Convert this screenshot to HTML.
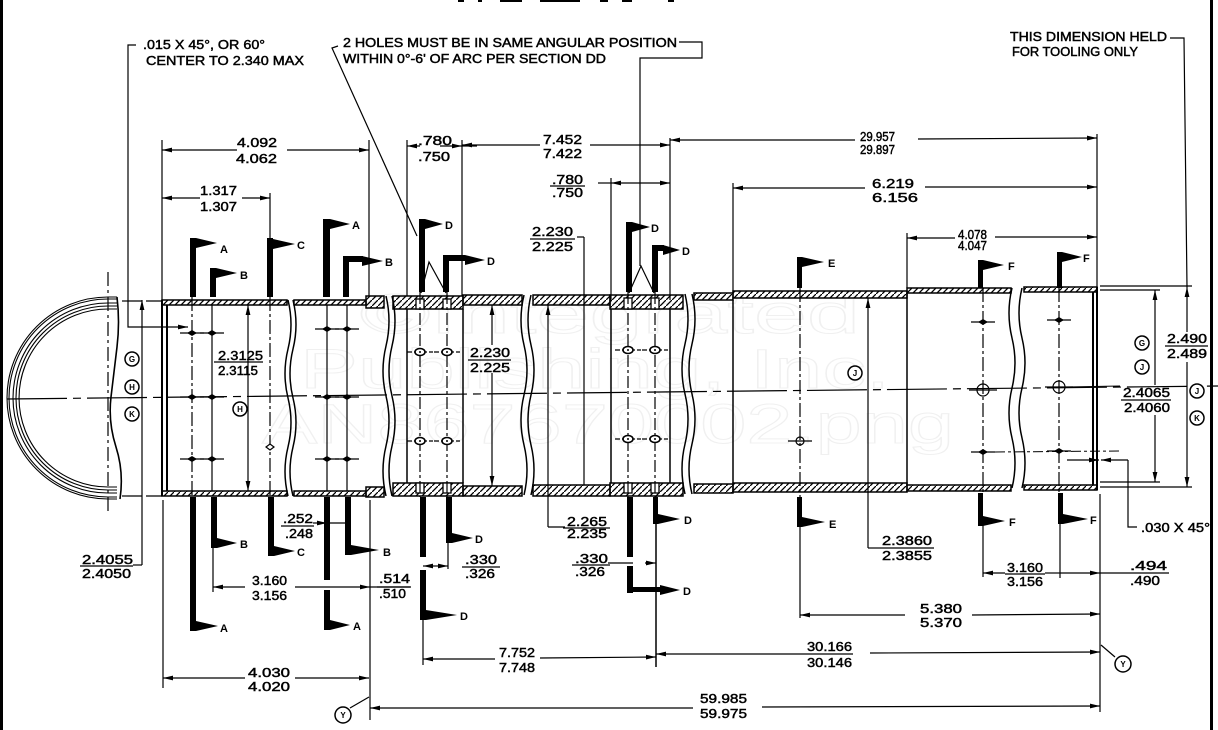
<!DOCTYPE html>
<html><head><meta charset="utf-8"><style>
html,body{margin:0;padding:0;background:#fff;}
svg{display:block}
text{font-family:"Liberation Sans",sans-serif;fill:#000}
.d{font-size:12.5px;stroke:#000;stroke-width:0.45}
.L{font-size:11px;font-weight:bold}
.c{font-size:8px;font-weight:bold}
.wm{font-size:56px;fill:none;stroke:#f0f0f0;stroke-width:1}
</style></head><body>
<svg width="1218" height="730" viewBox="0 0 1218 730" xmlns="http://www.w3.org/2000/svg">
<defs>
<pattern id="h" patternUnits="userSpaceOnUse" width="6" height="6"><path d="M-1,7 L7,-1" stroke="#000" stroke-width="1.3"/></pattern>
<marker id="a" markerUnits="userSpaceOnUse" markerWidth="10" markerHeight="6" refX="10" refY="3" orient="auto-start-reverse"><path d="M0,0.6 L10,3 L0,5.4z" fill="#000"/></marker>
<g id="hf"><line x1="-12" y1="0" x2="12" y2="0" stroke="#000" stroke-width="1.2"/><path d="M-5,0 L0,-3 L5,0 L0,3z" fill="#000"/></g>
<g id="ho"><line x1="-13" y1="0" x2="13" y2="0" stroke="#000" stroke-width="1.2" stroke-dasharray="5 2 2 2"/><ellipse cx="0" cy="0" rx="5" ry="3.5" fill="#fff" stroke="#000" stroke-width="1.6"/><circle cx="0" cy="0" r="1" fill="#000"/></g>
<g id="hc"><line x1="-14" y1="0" x2="14" y2="0" stroke="#000" stroke-width="1.2"/><circle cx="0" cy="0" r="6" fill="none" stroke="#000" stroke-width="1.2"/></g>
</defs>
<rect width="1218" height="730" fill="#fff"/>

<!-- watermark -->
<text class="wm" x="360" y="333" textLength="500" lengthAdjust="spacingAndGlyphs">©Integrated</text>
<text class="wm" x="300" y="388" textLength="590" lengthAdjust="spacingAndGlyphs">Publishing, Inc.</text>
<text class="wm" x="262" y="443" textLength="692" lengthAdjust="spacingAndGlyphs">AN867670002.png</text>

<!-- borders -->
<rect x="0" y="0" width="3" height="730" fill="#000"/>
<rect x="1210" y="0" width="3" height="730" fill="#000"/>
<g fill="#000"><rect x="458" y="0" width="6" height="2"/><rect x="478" y="0" width="4" height="2"/><rect x="500" y="0" width="22" height="2"/><rect x="540" y="0" width="40" height="2"/><rect x="600" y="0" width="8" height="2"/><rect x="622" y="0" width="10" height="2"/><rect x="668" y="0" width="6" height="2"/></g>

<!-- center line -->
<line x1="7" y1="399" x2="1220" y2="386" stroke="#000" stroke-width="1.2" stroke-dasharray="60 6 8 6"/>

<!-- end view -->
<g fill="none" stroke="#000" stroke-width="1.1">
<path d="M117,297 H108 A101,101 0 0 0 108,499 H117"/>
<path d="M117,299 H108 A99,99 0 0 0 108,497 H117"/>
<path d="M117,303 H108 A95,95 0 0 0 108,493 H117"/>
<path d="M117,306 H108 A92,92 0 0 0 108,490 H117"/>
<path d="M117,309 H108 A89,89 0 0 0 108,487 H117"/>
<path d="M117,297 q3,25 0,50 t-6,50 t5,50 t4,52" stroke-width="1.6"/>
</g>
<line x1="108" y1="272" x2="108" y2="513" stroke="#000" stroke-width="1.2" stroke-dasharray="14 4 3 4"/>

<!-- extension lines left -->
<g stroke="#000" stroke-width="1.2" fill="none">
<line x1="122" y1="301" x2="162" y2="301" stroke-dasharray="20 4"/>
<line x1="122" y1="496" x2="162" y2="496" stroke-dasharray="20 4"/>
<line x1="142" y1="565" x2="142" y2="300" marker-end="url(#a)"/>
<polyline points="133,565 142,565"/>
<polyline points="136,45 128,45 128,327 188,327" marker-end="url(#a)"/>
</g>

<!-- TUBE WALLS -->
<g stroke="#000" stroke-width="1.5" fill="url(#h)">
<rect x="162" y="300" width="125" height="5"/><rect x="162" y="491" width="125" height="5"/>
<rect x="294" y="300" width="72" height="5"/><rect x="294" y="491" width="72" height="5"/>
<rect x="366" y="296" width="18" height="12"/><rect x="366" y="487" width="18" height="10"/>
<rect x="393" y="296" width="70" height="13"/><rect x="393" y="483" width="70" height="13"/>
<rect x="463" y="295" width="59" height="10"/><rect x="463" y="486" width="59" height="10"/>
<rect x="533" y="295" width="77" height="10"/><rect x="533" y="485" width="77" height="11"/>
<rect x="610" y="295" width="73" height="14"/><rect x="610" y="483" width="73" height="13"/>
<rect x="694" y="293" width="39" height="7"/><rect x="694" y="484" width="39" height="9"/>
<rect x="733" y="291" width="174" height="7"/><rect x="733" y="483" width="174" height="9"/>
<rect x="907" y="288" width="104" height="5"/><rect x="907" y="485" width="104" height="6"/>
<rect x="1024" y="287" width="73" height="5"/><rect x="1024" y="485" width="73" height="5"/>
</g>
<!-- hole gaps -->
<g fill="#fff" stroke="#000" stroke-width="1.3">
<rect x="416" y="299" width="8" height="10"/><rect x="443" y="299" width="8" height="10"/>
<rect x="416" y="483" width="8" height="10"/><rect x="443" y="483" width="8" height="10"/>
<rect x="624" y="298" width="8" height="11"/><rect x="651" y="298" width="8" height="11"/>
<rect x="624" y="483" width="8" height="10"/><rect x="651" y="483" width="8" height="10"/>
</g>

<!-- outline vertical lines -->
<g stroke="#000" stroke-width="2" fill="none">
<line x1="162" y1="300" x2="162" y2="496"/>
<line x1="167" y1="305" x2="167" y2="491"/>
<line x1="1097" y1="287" x2="1097" y2="490"/>
<line x1="1093" y1="292" x2="1093" y2="485"/>
<line x1="407" y1="309" x2="407" y2="483" stroke-width="1.5"/>
<line x1="463" y1="309" x2="463" y2="483" stroke-width="1.5"/>
<line x1="611" y1="309" x2="611" y2="483" stroke-width="1.5"/>
<line x1="670" y1="309" x2="670" y2="483" stroke-width="1.5"/>
<line x1="733" y1="300" x2="733" y2="483" stroke-width="1.5"/>
<line x1="907" y1="293" x2="907" y2="485" stroke-width="1.5"/>
</g>
<!-- break lines -->
<g stroke="#000" stroke-width="1.5" fill="none">
<path d="M288,300 q6,24.5 0,49 t0,49 t0,49 t0,49"/>
<path d="M293,300 q6,24.5 0,49 t0,49 t0,49 t0,49"/>
<path d="M386,296 q6,25 0,50 t0,50 t0,50 t0,50"/>
<path d="M392,296 q6,25 0,50 t0,50 t0,50 t0,50"/>
<path d="M524,295 q-6,25 0,50 t0,50 t0,50 t0,50"/>
<path d="M531,295 q-6,25 0,50 t0,50 t0,50 t0,50"/>
<path d="M685,294 q6,25 0,50 t0,50 t0,50 t0,50"/>
<path d="M692,294 q6,25 0,50 t0,50 t0,50 t0,50"/>
<path d="M1012,288 q-6,25 0,50 t0,50 t0,50 t0,50"/>
<path d="M1022,288 q-6,25 0,50 t0,50 t0,50 t0,50"/>
</g>

<!-- interior lines -->
<g stroke="#000" stroke-width="1.2" fill="none">
<line x1="192" y1="297" x2="192" y2="497" stroke-dasharray="14 3 3 3"/>
<line x1="212" y1="305" x2="212" y2="491"/>
<line x1="270" y1="297" x2="270" y2="497" stroke-dasharray="14 3 3 3"/>
<line x1="327" y1="305" x2="327" y2="491"/>
<line x1="347" y1="305" x2="347" y2="491"/>
<line x1="420" y1="292" x2="420" y2="497" stroke-dasharray="12 3 3 3"/>
<line x1="447" y1="292" x2="447" y2="497" stroke-dasharray="12 3 3 3"/>
<line x1="628" y1="292" x2="628" y2="497" stroke-dasharray="12 3 3 3"/>
<line x1="655" y1="292" x2="655" y2="497" stroke-dasharray="12 3 3 3"/>
<line x1="584" y1="237" x2="584" y2="485"/>
<polyline points="577,237 584,237"/>
<line x1="800" y1="288" x2="800" y2="497" stroke-dasharray="14 3 3 3"/>
<line x1="983" y1="288" x2="983" y2="493" stroke-dasharray="14 3 3 3"/>
<line x1="1059" y1="288" x2="1059" y2="493" stroke-dasharray="14 3 3 3"/>
<!-- inner dims -->
<line x1="248" y1="360" x2="248" y2="305" marker-end="url(#a)"/>
<line x1="248" y1="360" x2="248" y2="491" marker-end="url(#a)"/>
<line x1="492" y1="345" x2="492" y2="305" marker-end="url(#a)"/>
<line x1="492" y1="373" x2="492" y2="486" marker-end="url(#a)"/>
<line x1="548" y1="400" x2="548" y2="305" marker-end="url(#a)"/>
<line x1="548" y1="400" x2="548" y2="527"/>
<polyline points="548,527 565,527"/>
<line x1="868" y1="400" x2="868" y2="298" marker-end="url(#a)"/>
<line x1="868" y1="400" x2="868" y2="548"/>
<polyline points="868,548 880,548"/>
</g>

<!-- holes -->
<use href="#hf" x="192" y="333"/><use href="#hf" x="212" y="333"/>
<use href="#hf" x="192" y="397"/><use href="#hf" x="212" y="397"/>
<use href="#hf" x="192" y="459"/><use href="#hf" x="212" y="459"/>
<path d="M266,447 L270,444 L274,447 L270,450z" fill="#fff" stroke="#000" stroke-width="1.2"/>
<use href="#hf" x="327" y="329"/><use href="#hf" x="347" y="329"/>
<use href="#hf" x="327" y="397"/><use href="#hf" x="347" y="397"/>
<use href="#hf" x="327" y="459"/><use href="#hf" x="347" y="459"/>
<use href="#ho" x="420" y="352"/><use href="#ho" x="447" y="352"/>
<use href="#ho" x="420" y="441"/><use href="#ho" x="447" y="441"/>
<use href="#ho" x="628" y="350"/><use href="#ho" x="655" y="350"/>
<use href="#ho" x="628" y="439"/><use href="#ho" x="655" y="439"/>
<g stroke="#000" stroke-width="1.2" fill="none">
<circle cx="800" cy="441" r="4"/><line x1="788" y1="441" x2="812" y2="441"/>
</g>
<use href="#hf" x="983" y="322"/><use href="#hc" x="983" y="390"/><use href="#hf" x="983" y="452"/>
<use href="#hf" x="1059" y="320"/><use href="#hc" x="1059" y="387"/><use href="#hf" x="1059" y="451"/>
<line x1="995" y1="452" x2="1120" y2="451" stroke="#000" stroke-width="1" stroke-dasharray="10 3 3 3"/>
<line x1="1067" y1="387" x2="1120" y2="386" stroke="#000" stroke-width="1"/>

<!-- V leaders -->
<g stroke="#000" stroke-width="1.2" fill="none">
<polyline points="421,293 429,262 446,293"/>
<polyline points="629,293 641,266 654,293"/>
<polyline points="338,46 332,48 417,236"/>
<polyline points="679,42 702,42 702,58 640,58 640,266"/>
<polyline points="1170,38 1184,38 1187,287"/>
</g>

<!-- top dimension lines -->
<g stroke="#000" stroke-width="1.2" fill="none">
<line x1="162" y1="140" x2="162" y2="300"/>
<line x1="369" y1="140" x2="369" y2="296"/>
<line x1="237" y1="150" x2="162" y2="150" marker-end="url(#a)"/>
<line x1="287" y1="150" x2="369" y2="150" marker-end="url(#a)"/>
<line x1="270" y1="193" x2="270" y2="240"/>
<line x1="200" y1="198" x2="162" y2="198" marker-end="url(#a)"/>
<line x1="242" y1="198" x2="270" y2="198" marker-end="url(#a)"/>
<line x1="407" y1="140" x2="407" y2="296"/>
<line x1="462" y1="140" x2="462" y2="296"/>
<line x1="420" y1="146" x2="407" y2="146" marker-end="url(#a)"/>
<line x1="440" y1="146" x2="462" y2="146" marker-end="url(#a)"/>
<line x1="462" y1="146" x2="477" y2="146"/>
<line x1="540" y1="145" x2="462" y2="145" marker-end="url(#a)"/>
<line x1="590" y1="145" x2="670" y2="145" marker-end="url(#a)"/>
<line x1="670" y1="138" x2="670" y2="300"/>
<line x1="855" y1="140" x2="670" y2="140" marker-end="url(#a)"/>
<line x1="918" y1="139" x2="1097" y2="138" marker-end="url(#a)"/>
<line x1="1097" y1="134" x2="1097" y2="287"/>
<line x1="611" y1="178" x2="611" y2="300"/>
<line x1="598" y1="183" x2="611" y2="183"/>
<line x1="640" y1="183" x2="611" y2="183" marker-end="url(#a)"/>
<line x1="640" y1="183" x2="670" y2="183" marker-end="url(#a)"/>
<line x1="733" y1="183" x2="733" y2="293"/>
<line x1="865" y1="188" x2="733" y2="188" marker-end="url(#a)"/>
<line x1="925" y1="187" x2="1097" y2="187" marker-end="url(#a)"/>
<line x1="907" y1="233" x2="907" y2="288"/>
<line x1="955" y1="238" x2="907" y2="238" marker-end="url(#a)"/>
<line x1="995" y1="237" x2="1097" y2="237" marker-end="url(#a)"/>
<!-- right dims -->
<line x1="1100" y1="286" x2="1192" y2="286"/>
<line x1="1100" y1="290" x2="1160" y2="290"/>
<line x1="1100" y1="487" x2="1192" y2="487"/>
<line x1="1100" y1="482" x2="1160" y2="482"/>
<line x1="1187" y1="332" x2="1187" y2="287" marker-end="url(#a)"/>
<line x1="1187" y1="362" x2="1187" y2="487" marker-end="url(#a)"/>
<line x1="1155" y1="385" x2="1155" y2="290" marker-end="url(#a)"/>
<line x1="1155" y1="415" x2="1155" y2="482" marker-end="url(#a)"/>
<line x1="1067" y1="460" x2="1099" y2="460" marker-end="url(#a)"/>
<line x1="1128" y1="460" x2="1101" y2="460" marker-end="url(#a)"/>
<polyline points="1128,460 1128,527 1137,527"/>
</g>

<!-- bottom dimension lines -->
<g stroke="#000" stroke-width="1.2" fill="none">
<line x1="163" y1="500" x2="163" y2="688"/>
<line x1="370" y1="500" x2="370" y2="720"/>
<line x1="1100" y1="494" x2="1100" y2="712"/>
<line x1="318" y1="523" x2="347" y2="523"/>
<line x1="313" y1="523" x2="327" y2="523" marker-end="url(#a)"/>
<line x1="213" y1="545" x2="213" y2="592"/>
<line x1="245" y1="587" x2="213" y2="587" marker-end="url(#a)"/>
<line x1="295" y1="587" x2="370" y2="587" marker-end="url(#a)"/>
<line x1="370" y1="587" x2="410" y2="587"/>
<line x1="245" y1="678" x2="163" y2="678" marker-end="url(#a)"/>
<line x1="295" y1="678" x2="369" y2="678" marker-end="url(#a)"/>
<line x1="448" y1="540" x2="448" y2="569"/>
<line x1="436" y1="566" x2="423" y2="566" marker-end="url(#a)"/>
<line x1="436" y1="566" x2="448" y2="566" marker-end="url(#a)"/>
<line x1="608" y1="563" x2="633" y2="563"/>
<line x1="645" y1="563" x2="656" y2="563" marker-end="url(#a)"/>
<line x1="656" y1="496" x2="656" y2="667" stroke-width="1.5"/>
<line x1="423" y1="617" x2="423" y2="665"/>
<line x1="495" y1="659" x2="423" y2="659" marker-end="url(#a)"/>
<line x1="540" y1="658" x2="656" y2="657" marker-end="url(#a)"/>
<line x1="805" y1="654" x2="656" y2="654" marker-end="url(#a)"/>
<line x1="870" y1="653" x2="1100" y2="652" marker-end="url(#a)"/>
<line x1="693" y1="708" x2="370" y2="708" marker-end="url(#a)"/>
<line x1="762" y1="707" x2="1100" y2="706" marker-end="url(#a)"/>
<line x1="983" y1="522" x2="983" y2="577"/>
<line x1="1060" y1="520" x2="1060" y2="578"/>
<line x1="1005" y1="573" x2="983" y2="573" marker-end="url(#a)"/>
<line x1="1045" y1="573" x2="1060" y2="573"/>
<line x1="1060" y1="573" x2="1100" y2="573" marker-end="url(#a)"/>
<line x1="1100" y1="573" x2="1128" y2="573"/>
<line x1="800" y1="522" x2="800" y2="618"/>
<line x1="905" y1="615" x2="800" y2="615" marker-end="url(#a)"/>
<line x1="972" y1="615" x2="1100" y2="614" marker-end="url(#a)"/>
<line x1="350" y1="708" x2="369" y2="697"/>
<line x1="1115" y1="657" x2="1101" y2="645"/>
</g>

<!-- section markers top -->
<g fill="#000">
<rect x="190" y="238" width="6" height="59"/><polygon points="196,238 217,243 196,248"/>
<rect x="210" y="268" width="6" height="29"/><polygon points="216,268 237,273 216,278"/>
<rect x="267" y="238" width="6" height="59"/><polygon points="273,239 295,244 273,249"/>
<rect x="323" y="219" width="7" height="78"/><polygon points="330,219 350,224 330,229"/>
<rect x="343" y="256" width="6" height="41"/><rect x="343" y="256" width="20" height="6"/><polygon points="362,256 383,261 362,266"/>
<rect x="419" y="219" width="6" height="73"/><polygon points="425,219 443,224 425,229"/>
<rect x="443" y="255" width="6" height="37"/><rect x="443" y="255" width="22" height="6"/><polygon points="465,255 485,260 465,265"/>
<rect x="626" y="222" width="6" height="70"/><polygon points="632,222 650,227 632,232"/>
<rect x="652" y="245" width="6" height="47"/><rect x="652" y="245" width="12" height="6"/><polygon points="663,245 680,250 663,255"/>
<rect x="797" y="257" width="5" height="31"/><polygon points="802,257 824,262 802,267"/>
<rect x="978" y="260" width="5" height="28"/><polygon points="983,260 1004,265 983,270"/>
<rect x="1057" y="252" width="5" height="36"/><polygon points="1062,252 1082,257 1062,262"/>
<!-- bottom -->
<rect x="190" y="497" width="6" height="134"/><polygon points="196,621 218,626 196,631"/>
<rect x="211" y="497" width="6" height="51"/><polygon points="217,538 237,543 217,548"/>
<rect x="268" y="497" width="6" height="59"/><polygon points="274,546 295,551 274,556"/>
<rect x="324" y="497" width="6" height="83"/><rect x="324" y="590" width="6" height="40"/><polygon points="330,620 350,625 330,630"/>
<rect x="345" y="497" width="6" height="58"/><polygon points="351,545 379,550 351,555"/>
<rect x="420" y="497" width="6" height="60"/><rect x="420" y="570" width="6" height="50"/><polygon points="426,610 457,615 426,620"/>
<rect x="446" y="497" width="6" height="46"/><polygon points="452,533 473,538 452,543"/>
<rect x="627" y="497" width="6" height="60"/><rect x="627" y="566" width="6" height="27"/><rect x="627" y="587" width="33" height="5"/><polygon points="660,585 680,590 660,595"/>
<rect x="653" y="497" width="5" height="27"/><polygon points="658,514 680,519 658,524"/>
<rect x="797" y="497" width="5" height="30"/><polygon points="802,517 825,522 802,527"/>
<rect x="978" y="493" width="5" height="33"/><polygon points="983,516 1005,521 983,526"/>
<rect x="1058" y="493" width="5" height="31"/><polygon points="1063,514 1088,519 1063,524"/>
</g>
<g class="L">
<text x="220" y="253">A</text><text x="240" y="279">B</text><text x="297" y="249">C</text>
<text x="352" y="229">A</text><text x="385" y="266">B</text>
<text x="445" y="229">D</text><text x="487" y="265">D</text>
<text x="651" y="232">D</text><text x="682" y="255">D</text>
<text x="828" y="267">E</text><text x="1008" y="270">F</text><text x="1083" y="262">F</text>
<text x="220" y="632">A</text><text x="240" y="548">B</text><text x="297" y="556">C</text>
<text x="353" y="630">A</text><text x="383" y="556">B</text>
<text x="460" y="620">D</text><text x="475" y="543">D</text>
<text x="683" y="595">D</text><text x="684" y="524">D</text>
<text x="829" y="528">E</text><text x="1009" y="526">F</text><text x="1090" y="524">F</text>
</g>

<!-- circled letters -->
<g fill="#fff" stroke="#000" stroke-width="1.5">
<circle cx="132" cy="359" r="7"/><circle cx="132" cy="387" r="7"/><circle cx="132" cy="414" r="7"/>
<circle cx="240" cy="409" r="7"/><circle cx="855" cy="373" r="7"/>
<circle cx="1142" cy="343" r="7"/><circle cx="1142" cy="367" r="7"/>
<circle cx="1197" cy="391" r="7"/><circle cx="1197" cy="418" r="7"/>
<circle cx="343" cy="715" r="8"/><circle cx="1123" cy="664" r="8"/>
</g>
<g class="c" text-anchor="middle">
<text x="132" y="362">G</text><text x="132" y="390">H</text><text x="132" y="417">K</text>
<text x="240" y="412">H</text><text x="855" y="376">J</text>
<text x="1142" y="346">G</text><text x="1142" y="370">J</text>
<text x="1197" y="394">J</text><text x="1197" y="421">K</text>
<text x="343" y="718">Y</text><text x="1123" y="667">Y</text>
</g>

<!-- notes -->
<g class="d">
<text x="143" y="49" textLength="122" lengthAdjust="spacingAndGlyphs">.015 X 45°, OR 60°</text>
<text x="146" y="65" textLength="158" lengthAdjust="spacingAndGlyphs">CENTER TO 2.340 MAX</text>
<text x="343" y="47" textLength="334" lengthAdjust="spacingAndGlyphs">2 HOLES MUST BE IN SAME ANGULAR POSITION</text>
<text x="343" y="63" textLength="263" lengthAdjust="spacingAndGlyphs">WITHIN 0°-6' OF ARC PER SECTION DD</text>
<text x="1010" y="41" textLength="157" lengthAdjust="spacingAndGlyphs">THIS DIMENSION HELD</text>
<text x="1012" y="56" textLength="126" lengthAdjust="spacingAndGlyphs">FOR TOOLING ONLY</text>
<text x="1141" y="532" textLength="69" lengthAdjust="spacingAndGlyphs">.030 X 45°</text>
</g>

<!-- fractions -->
<g class="d">
<text x="237" y="147" textLength="40" lengthAdjust="spacingAndGlyphs">4.092</text><text x="236" y="163" textLength="41" lengthAdjust="spacingAndGlyphs">4.062</text>
<text x="200" y="195" textLength="37" lengthAdjust="spacingAndGlyphs">1.317</text><text x="200" y="211" textLength="37" lengthAdjust="spacingAndGlyphs">1.307</text>
<text x="418" y="145" textLength="34" lengthAdjust="spacingAndGlyphs">.780</text><text x="418" y="161" textLength="32" lengthAdjust="spacingAndGlyphs">.750</text>
<text x="543" y="144" textLength="39" lengthAdjust="spacingAndGlyphs">7.452</text><text x="543" y="158" textLength="39" lengthAdjust="spacingAndGlyphs">7.422</text>
<text x="860" y="141" textLength="35" lengthAdjust="spacingAndGlyphs">29.957</text><text x="860" y="154" textLength="35" lengthAdjust="spacingAndGlyphs">29.897</text>
<text x="552" y="184" textLength="31" lengthAdjust="spacingAndGlyphs">.780</text><text x="552" y="197" textLength="31" lengthAdjust="spacingAndGlyphs">.750</text>
<text x="872" y="188" textLength="42" lengthAdjust="spacingAndGlyphs">6.219</text><text x="872" y="202" textLength="46" lengthAdjust="spacingAndGlyphs">6.156</text>
<text x="958" y="239" textLength="29" lengthAdjust="spacingAndGlyphs">4.078</text><text x="958" y="250" textLength="29" lengthAdjust="spacingAndGlyphs">4.047</text>
<text x="532" y="236" textLength="41" lengthAdjust="spacingAndGlyphs">2.230</text><text x="532" y="251" textLength="41" lengthAdjust="spacingAndGlyphs">2.225</text>
<text x="218" y="360" textLength="45" lengthAdjust="spacingAndGlyphs">2.3125</text><text x="218" y="375" textLength="40" lengthAdjust="spacingAndGlyphs">2.3115</text>
<text x="470" y="357" textLength="40" lengthAdjust="spacingAndGlyphs">2.230</text><text x="470" y="372" textLength="40" lengthAdjust="spacingAndGlyphs">2.225</text>
<text x="1167" y="343" textLength="40" lengthAdjust="spacingAndGlyphs">2.490</text><text x="1167" y="358" textLength="40" lengthAdjust="spacingAndGlyphs">2.489</text>
<text x="1123" y="397" textLength="47" lengthAdjust="spacingAndGlyphs">2.4065</text><text x="1124" y="412" textLength="46" lengthAdjust="spacingAndGlyphs">2.4060</text>
<text x="82" y="564" textLength="51" lengthAdjust="spacingAndGlyphs">2.4055</text><text x="82" y="578" textLength="49" lengthAdjust="spacingAndGlyphs">2.4050</text>
<text x="283" y="523" textLength="30" lengthAdjust="spacingAndGlyphs">.252</text><text x="285" y="538" textLength="28" lengthAdjust="spacingAndGlyphs">.248</text>
<text x="252" y="585" textLength="35" lengthAdjust="spacingAndGlyphs">3.160</text><text x="252" y="600" textLength="35" lengthAdjust="spacingAndGlyphs">3.156</text>
<text x="379" y="583" textLength="31" lengthAdjust="spacingAndGlyphs">.514</text><text x="379" y="598" textLength="27" lengthAdjust="spacingAndGlyphs">.510</text>
<text x="248" y="677" textLength="42" lengthAdjust="spacingAndGlyphs">4.030</text><text x="248" y="691" textLength="42" lengthAdjust="spacingAndGlyphs">4.020</text>
<text x="567" y="526" textLength="40" lengthAdjust="spacingAndGlyphs">2.265</text><text x="567" y="538" textLength="40" lengthAdjust="spacingAndGlyphs">2.235</text>
<text x="465" y="564" textLength="32" lengthAdjust="spacingAndGlyphs">.330</text><text x="465" y="578" textLength="30" lengthAdjust="spacingAndGlyphs">.326</text>
<text x="575" y="563" textLength="33" lengthAdjust="spacingAndGlyphs">.330</text><text x="575" y="576" textLength="30" lengthAdjust="spacingAndGlyphs">.326</text>
<text x="499" y="657" textLength="36" lengthAdjust="spacingAndGlyphs">7.752</text><text x="499" y="672" textLength="36" lengthAdjust="spacingAndGlyphs">7.748</text>
<text x="700" y="703" textLength="47" lengthAdjust="spacingAndGlyphs">59.985</text><text x="700" y="718" textLength="47" lengthAdjust="spacingAndGlyphs">59.975</text>
<text x="807" y="651" textLength="45" lengthAdjust="spacingAndGlyphs">30.166</text><text x="807" y="667" textLength="45" lengthAdjust="spacingAndGlyphs">30.146</text>
<text x="882" y="545" textLength="50" lengthAdjust="spacingAndGlyphs">2.3860</text><text x="882" y="560" textLength="50" lengthAdjust="spacingAndGlyphs">2.3855</text>
<text x="1007" y="572" textLength="36" lengthAdjust="spacingAndGlyphs">3.160</text><text x="1007" y="586" textLength="36" lengthAdjust="spacingAndGlyphs">3.156</text>
<text x="1130" y="570" textLength="37" lengthAdjust="spacingAndGlyphs">.494</text><text x="1130" y="585" textLength="30" lengthAdjust="spacingAndGlyphs">.490</text>
<text x="920" y="613" textLength="42" lengthAdjust="spacingAndGlyphs">5.380</text><text x="920" y="627" textLength="42" lengthAdjust="spacingAndGlyphs">5.370</text>
</g>
<!-- fraction bars -->
<g stroke="#000" stroke-width="1.2">
<line x1="214" y1="362" x2="263" y2="362"/><line x1="468" y1="360" x2="511" y2="360"/>
<line x1="530" y1="239" x2="575" y2="239"/><line x1="1165" y1="346" x2="1208" y2="346"/>
<line x1="1121" y1="400" x2="1171" y2="400"/><line x1="80" y1="566" x2="133" y2="566"/>
<line x1="281" y1="526" x2="314" y2="526"/><line x1="563" y1="528" x2="610" y2="528"/>
<line x1="462" y1="567" x2="500" y2="567"/><line x1="572" y1="565" x2="610" y2="565"/>
<line x1="880" y1="548" x2="934" y2="548"/><line x1="1128" y1="573" x2="1169" y2="573"/>
<line x1="550" y1="186" x2="585" y2="186"/><line x1="805" y1="654" x2="853" y2="654"/>
<line x1="1005" y1="574" x2="1045" y2="574"/><line x1="377" y1="587" x2="411" y2="587"/>
</g>
</svg>
</body></html>
